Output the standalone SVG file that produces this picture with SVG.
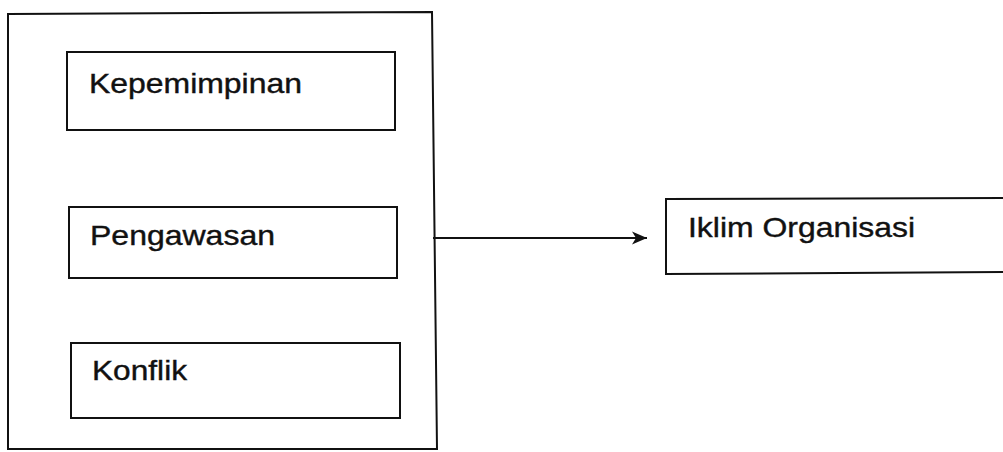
<svg xmlns="http://www.w3.org/2000/svg" width="1003" height="452" viewBox="0 0 1003 452">
  <style>
    .frame { fill: none; stroke: #111; stroke-width: 2; }
    .box { fill: #fff; stroke: #111; stroke-width: 2; }
    .label { font-family: "Liberation Sans", Arial, sans-serif; font-size: 28px; fill: #111; stroke: #111; stroke-width: 0.4; }
    .link { fill: none; stroke: #111; stroke-width: 2; }
  </style>
  <defs>
    <marker id="arrowhead" markerWidth="16" markerHeight="14" refX="15" refY="7" orient="auto" markerUnits="userSpaceOnUse">
      <path d="M0,0.5 L15,7 L0,13.5 L4,7 Z" fill="#111"/>
    </marker>
  </defs>

  <!-- outer frame holding the three factors -->
  <g id="factors">
    <path class="frame" d="M8,14 L432,12 L437,449 L8,449 Z"/>
  </g>

  <g id="kepemimpinan">
    <rect class="box" x="67" y="52" width="328" height="78"/>
    <text class="label" x="89" y="93" textLength="213" lengthAdjust="spacingAndGlyphs">Kepemimpinan</text>
  </g>

  <g id="pengawasan">
    <rect class="box" x="69" y="207" width="328" height="71"/>
    <text class="label" x="90" y="245" textLength="185" lengthAdjust="spacingAndGlyphs">Pengawasan</text>
  </g>

  <g id="konflik">
    <rect class="box" x="71" y="343" width="329" height="75"/>
    <text class="label" x="92" y="380" textLength="95" lengthAdjust="spacingAndGlyphs">Konflik</text>
  </g>

  <!-- result box, open on the right side -->
  <g id="iklim-organisasi">
    <path class="frame" d="M1003,198 L666,199 L666,274 L1003,272"/>
    <text class="label" x="688" y="237" textLength="227" lengthAdjust="spacingAndGlyphs">Iklim Organisasi</text>
  </g>

  <g id="connectors">
    <line class="link" x1="433" y1="238" x2="647" y2="238" marker-end="url(#arrowhead)"/>
  </g>
</svg>
